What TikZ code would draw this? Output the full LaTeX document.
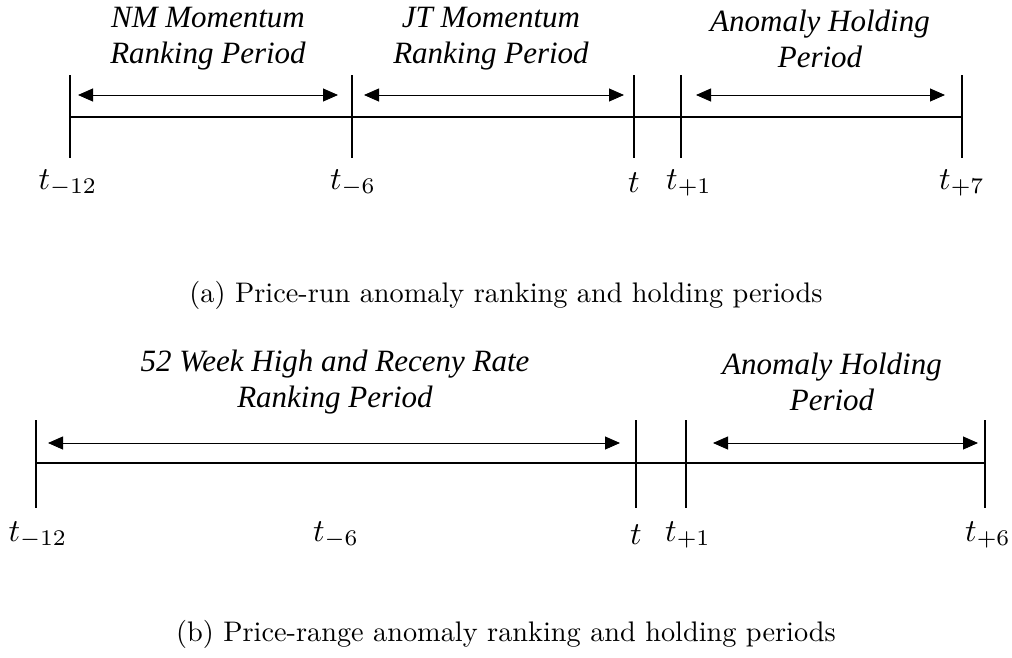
\documentclass[tikz,border=0pt]{standalone}
\usepackage{fontspec}
\newfontfamily\periodfont{Liberation Serif}
\usetikzlibrary{arrows.meta,positioning}
\tikzset{
  tickline/.style={line width=2pt},
  axisline/.style={line width=2pt},
  spanarrow/.style={line width=0.9pt, {Triangle[length=15pt,width=13pt]}-{Triangle[length=15pt,width=13pt]}},
  periodlabel/.style={font=\fontsize{31}{36}\selectfont\periodfont\itshape, align=center, inner sep=0pt},
  ticklabel/.style={font=\normalsize, scale=3.2, inner sep=0pt},
  captionlabel/.style={font=\normalsize, scale=2.83, inner sep=0pt}
}
\begin{document}
\begin{tikzpicture}[x=1pt,y=-1pt]
  \useasboundingbox (0,0) rectangle (1012,657);

  % (a) price-run
  \foreach \n/\x in {a/70, b/352, c/634, d/681, e/962} {
    \coordinate (ta-\n) at (\x,75);
    \coordinate (ba-\n) at (\x,158);
    \coordinate (ma-\n) at (\x,117);
    \coordinate (ra-\n) at (\x,95);
    \draw[tickline] (ta-\n) -- (ba-\n);
  }
  \draw[axisline] (ma-a) -- (ma-e);
  \draw[spanarrow] ([xshift=8pt]ra-a) -- ([xshift=-14pt]ra-b);
  \draw[spanarrow] ([xshift=12pt]ra-b) -- ([xshift=-10pt]ra-c);
  \draw[spanarrow] ([xshift=15pt]ra-d) -- ([xshift=-17pt]ra-e);

  \node[periodlabel] (nm) at (208,39) {NM Momentum\\Ranking Period};
  \node[periodlabel] (jt) at (491,39) {JT Momentum\\Ranking Period};
  \node[periodlabel] (holda) at (820,39) {Anomaly Holding\\Period};

  \node[ticklabel] (la-a) at (68,183) {$t_{-12}$};
  \node[ticklabel] (la-b) at (353,183) {$t_{-6}$};
  \node[ticklabel] (la-c) at (634,183) {$t$};
  \node[ticklabel] (la-d) at (689,183) {$t_{+1}$};
  \node[ticklabel] (la-e) at (962,183) {$t_{+7}$};

  \node[captionlabel] (capa) at (506,295) {(a) Price-run anomaly ranking and holding periods};

  % (b) price-range
  \foreach \n/\x in {a/36, c/636, d/686, e/985} {
    \coordinate (tb-\n) at (\x,420);
    \coordinate (bb-\n) at (\x,508);
    \coordinate (mb-\n) at (\x,463);
    \coordinate (rb-\n) at (\x,443);
    \draw[tickline] (tb-\n) -- (bb-\n);
  }
  \draw[axisline] (mb-a) -- (mb-e);
  \draw[spanarrow] ([xshift=12pt]rb-a) -- ([xshift=-16pt]rb-c);
  \draw[spanarrow] ([xshift=27pt]rb-d) -- ([xshift=-7pt]rb-e);

  \node[periodlabel] (whr) at (335,382) {52 Week High and Receny Rate\\Ranking Period};
  \node[periodlabel] (holdb) at (832,382) {Anomaly Holding\\Period};

  \node[ticklabel] (lb-a) at (38,535) {$t_{-12}$};
  \node[ticklabel] (lb-b) at (336,535) {$t_{-6}$};
  \node[ticklabel] (lb-c) at (636,535) {$t$};
  \node[ticklabel] (lb-d) at (688,535) {$t_{+1}$};
  \node[ticklabel] (lb-e) at (988,535) {$t_{+6}$};

  \node[captionlabel] (capb) at (506,634) {(b) Price-range anomaly ranking and holding periods};
\end{tikzpicture}
\end{document}
